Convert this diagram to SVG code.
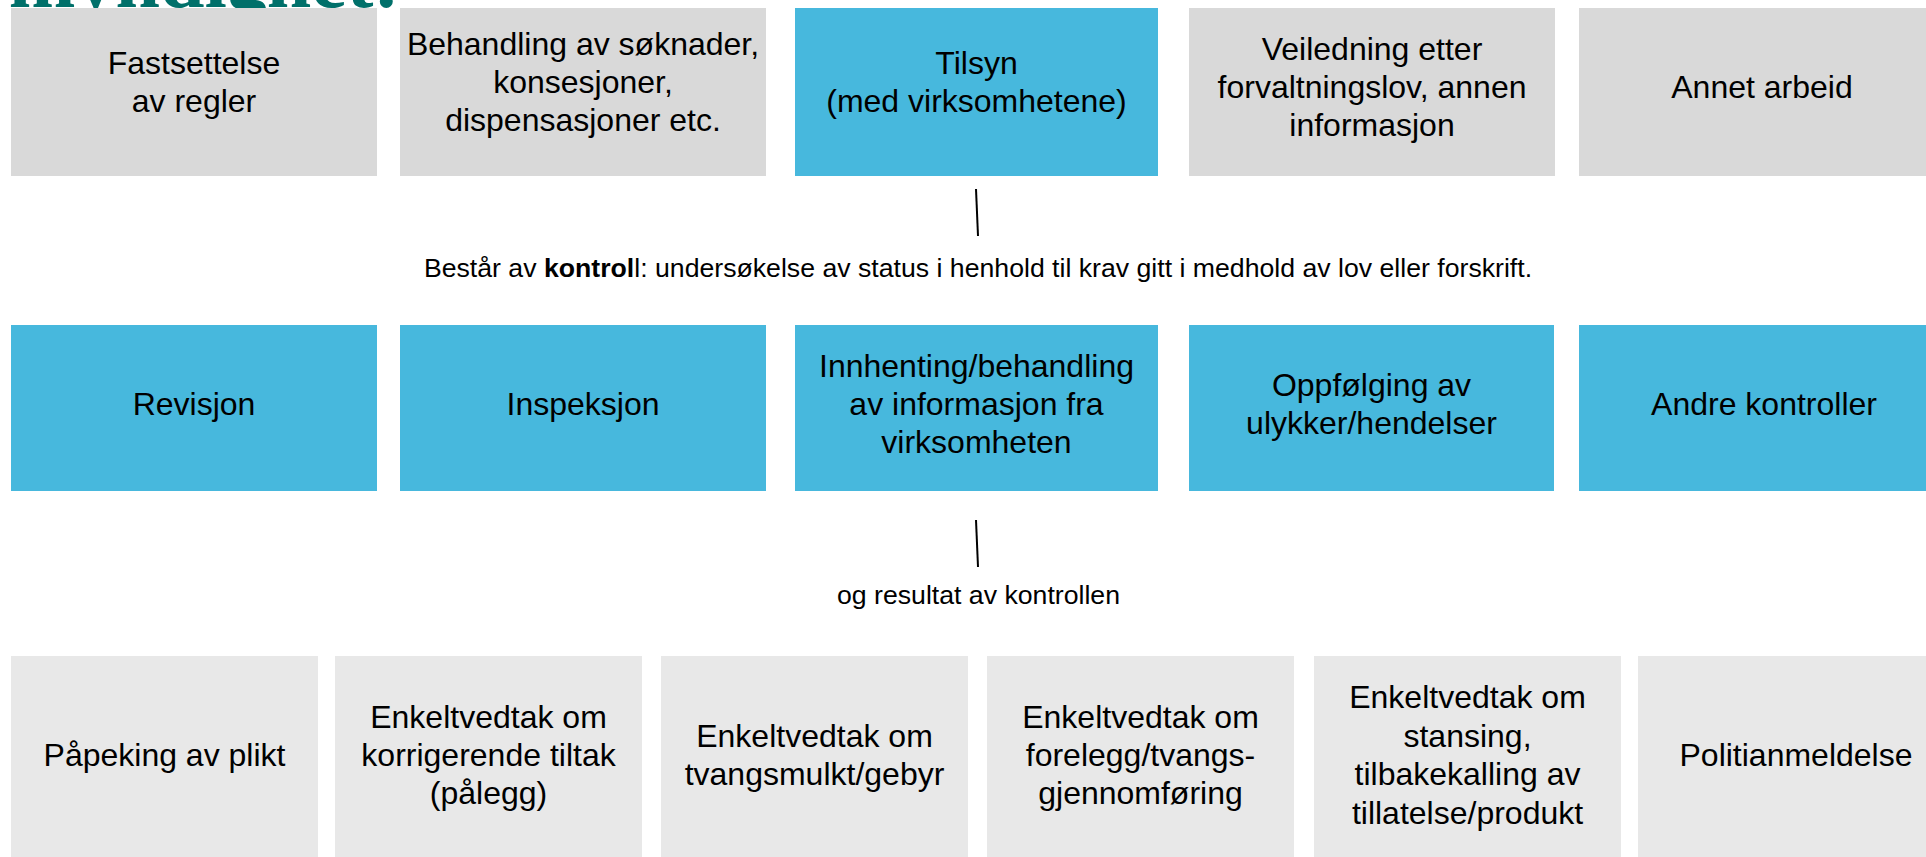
<svg xmlns="http://www.w3.org/2000/svg" width="1926" height="857" viewBox="0 0 1926 857">
<style>
.t{font-family:"Liberation Sans",Arial,sans-serif;font-size:32px;fill:#000;text-anchor:middle}
.s{font-family:"Liberation Sans",Arial,sans-serif;font-size:26.67px;fill:#000;text-anchor:middle}
.g{fill:#D9D9D9}
.b{fill:#47B8DD}
.l{fill:#E8E8E8}
.title{font-family:"Liberation Serif","Times New Roman",serif;font-weight:bold;font-size:80px;fill:#00706A;text-anchor:end}
</style>
<rect width="1926" height="857" fill="#fff"/>
<text class="title" x="400" y="7">myndighet:</text>
<g id="top-1"><rect class="g" x="11" y="8" width="366" height="168"/><text class="t"><tspan x="194" y="74">Fastsettelse</tspan><tspan x="194" y="112">av regler</tspan></text></g>
<g id="top-2"><rect class="g" x="400" y="8" width="366" height="168"/><text class="t"><tspan x="583" y="55">Behandling av søknader,</tspan><tspan x="583" y="93">konsesjoner,</tspan><tspan x="583" y="131">dispensasjoner etc.</tspan></text></g>
<g id="top-3"><rect class="b" x="795" y="8" width="363" height="168"/><text class="t"><tspan x="976.5" y="74">Tilsyn</tspan><tspan x="976.5" y="112">(med virksomhetene)</tspan></text></g>
<g id="top-4"><rect class="g" x="1189" y="8" width="366" height="168"/><text class="t"><tspan x="1372" y="60">Veiledning etter</tspan><tspan x="1372" y="98">forvaltningslov, annen</tspan><tspan x="1372" y="136">informasjon</tspan></text></g>
<g id="top-5"><rect class="g" x="1579" y="8" width="366" height="168"/><text class="t" x="1762" y="98">Annet arbeid</text></g>
<g id="connectors">
<line x1="976" y1="189" x2="978" y2="236" stroke="#000" stroke-width="2"/>
<line x1="976" y1="520" x2="978" y2="567" stroke="#000" stroke-width="2"/>
</g>
<text class="s" x="978" y="277">Består av <tspan font-weight="bold">kontrol</tspan>l: undersøkelse av status i henhold til krav gitt i medhold av lov eller forskrift.</text>
<g id="mid-1"><rect class="b" x="11" y="325" width="366" height="166"/><text class="t" x="194" y="415">Revisjon</text></g>
<g id="mid-2"><rect class="b" x="400" y="325" width="366" height="166"/><text class="t" x="583" y="415">Inspeksjon</text></g>
<g id="mid-3"><rect class="b" x="795" y="325" width="363" height="166"/><text class="t"><tspan x="976.5" y="376.6">Innhenting/behandling</tspan><tspan x="976.5" y="415">av informasjon fra</tspan><tspan x="976.5" y="453.4">virksomheten</tspan></text></g>
<g id="mid-4"><rect class="b" x="1189" y="325" width="365" height="166"/><text class="t"><tspan x="1371.5" y="395.8">Oppfølging av</tspan><tspan x="1371.5" y="434.2">ulykker/hendelser</tspan></text></g>
<g id="mid-5"><rect class="b" x="1579" y="325" width="366" height="166"/><text class="t" x="1764" y="415">Andre kontroller</text></g>
<text class="s" x="978.5" y="604">og resultat av kontrollen</text>
<g id="bot-1"><rect class="l" x="11" y="656" width="307" height="201"/><text class="t" x="164.5" y="766">Påpeking av plikt</text></g>
<g id="bot-2"><rect class="l" x="335" y="656" width="307" height="201"/><text class="t"><tspan x="488.5" y="727.6">Enkeltvedtak om</tspan><tspan x="488.5" y="766">korrigerende tiltak</tspan><tspan x="488.5" y="804.4">(pålegg)</tspan></text></g>
<g id="bot-3"><rect class="l" x="661" y="656" width="307" height="201"/><text class="t"><tspan x="814.5" y="746.8">Enkeltvedtak om</tspan><tspan x="814.5" y="785.2">tvangsmulkt/gebyr</tspan></text></g>
<g id="bot-4"><rect class="l" x="987" y="656" width="307" height="201"/><text class="t"><tspan x="1140.5" y="727.6">Enkeltvedtak om</tspan><tspan x="1140.5" y="766">forelegg/tvangs-</tspan><tspan x="1140.5" y="804.4">gjennomføring</tspan></text></g>
<g id="bot-5"><rect class="l" x="1314" y="656" width="307" height="201"/><text class="t"><tspan x="1467.5" y="708.4">Enkeltvedtak om</tspan><tspan x="1467.5" y="746.8">stansing,</tspan><tspan x="1467.5" y="785.2">tilbakekalling av</tspan><tspan x="1467.5" y="823.6">tillatelse/produkt</tspan></text></g>
<g id="bot-6"><rect class="l" x="1638" y="656" width="307" height="201"/><text class="t" x="1796" y="766">Politianmeldelse</text></g>
</svg>
